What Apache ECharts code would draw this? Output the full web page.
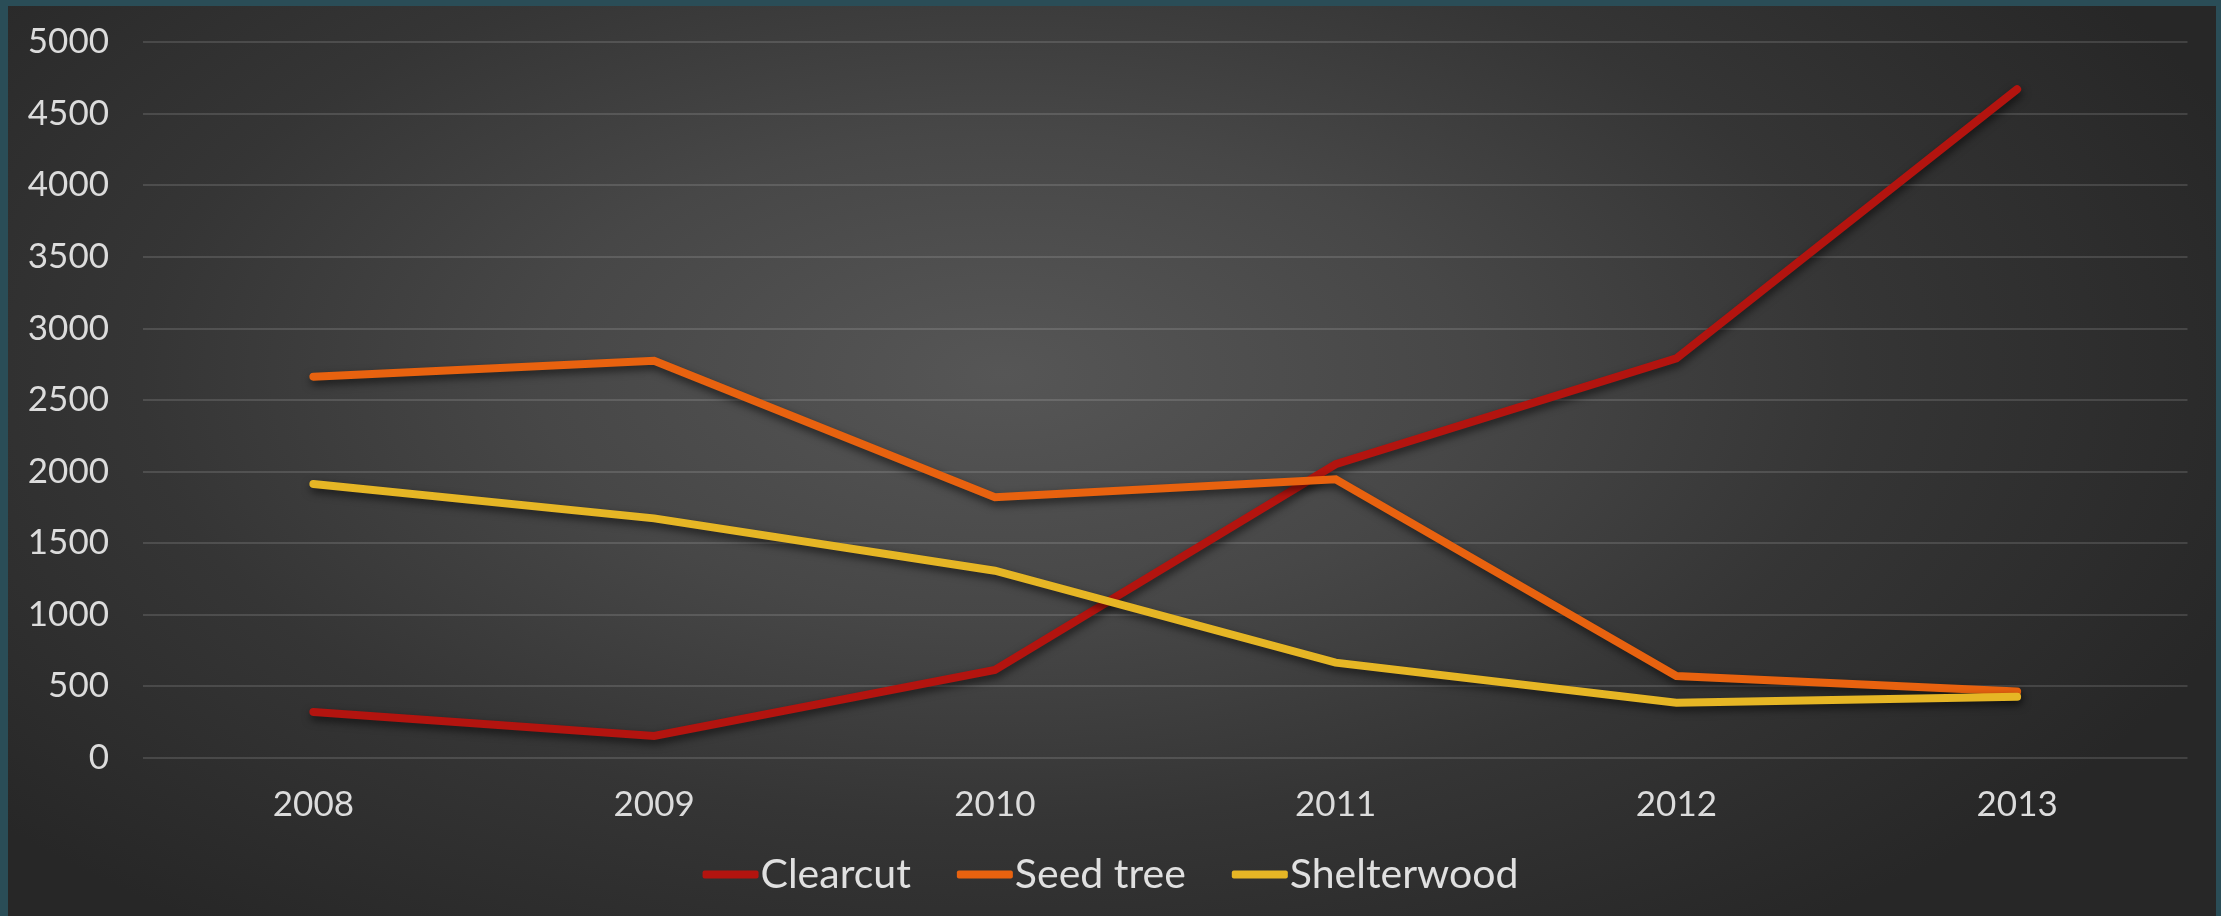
<!DOCTYPE html>
<html>
<head>
<meta charset="utf-8">
<script src="https://cdn.jsdelivr.net/npm/echarts@6/dist/echarts.min.js"></script>
<style>
html,body{margin:0;padding:0;width:2221px;height:916px;overflow:hidden;background:#2a4d57;}
#panel{position:absolute;left:8px;top:6px;width:2208px;height:920px;
background:radial-gradient(ellipse 60% 75% at 45% 40%, #565656 0%, #474747 35%, #353535 65%, #272727 100%);}
#chart{position:absolute;left:0;top:0;width:2221px;height:916px;}
</style>
</head>
<body>
<div id="panel"></div>
<div id="chart"></div>
<script>
const categories = ['2008','2009','2010','2011','2012','2013'];
const clearcut = [320, 152, 613, 2050, 2790, 4670];
const seedTree = [2662, 2773, 1819, 1945, 571, 462];
const shelterwood = [1912, 1672, 1306, 664, 384, 426];
const seriesNames = ['Clearcut','Seed tree','Shelterwood'];
const seriesColors = ['#b3140f','#e8620f','#e6b625'];

const chart = echarts.init(document.getElementById('chart'), null, {renderer:'canvas'});
const dataSets = [clearcut, seedTree, shelterwood];
chart.setOption({
  backgroundColor: 'transparent',
  animation: false,
  grid: {left: 143, right: 33.5, top: 42, bottom: 158.3, containLabel: false},
  legend: {
    bottom: 16,
    left: 'center',
    itemWidth: 56,
    itemHeight: 8,
    itemGap: 46,
    icon: 'roundRect',
    textStyle: {color: '#e0e0e0', fontSize: 41, fontFamily: 'Lato, "Open Sans", sans-serif', padding:[0,0,0,-3]},
    data: seriesNames
  },
  xAxis: {
    type: 'category',
    data: categories,
    boundaryGap: true,
    axisLine: {show: false},
    axisTick: {show: false},
    axisLabel: {color: '#dcdcdc', fontSize: 35, margin: 30, fontFamily: 'Lato, "Open Sans", sans-serif'}
  },
  yAxis: {
    type: 'value',
    min: 0, max: 5000, interval: 500,
    axisLine: {show: false},
    axisTick: {show: false},
    splitLine: {lineStyle: {color: 'rgba(255,255,255,0.13)', width: 2}},
    axisLabel: {color: '#dcdcdc', fontSize: 35, margin: 34, fontFamily: 'Lato, "Open Sans", sans-serif',
      formatter: v => String(v)}
  },
  series: seriesNames.map((n, i) => ({
    name: n,
    type: 'line',
    data: dataSets[i],
    symbol: 'none',
    color: seriesColors[i],
    lineStyle: {width: 8, color: seriesColors[i], cap: 'round', join: 'miter',
      shadowColor: 'rgba(0,0,0,0.6)', shadowBlur: 8, shadowOffsetY: 4, shadowOffsetX: 1}
  }))
});
</script>
</body>
</html>
